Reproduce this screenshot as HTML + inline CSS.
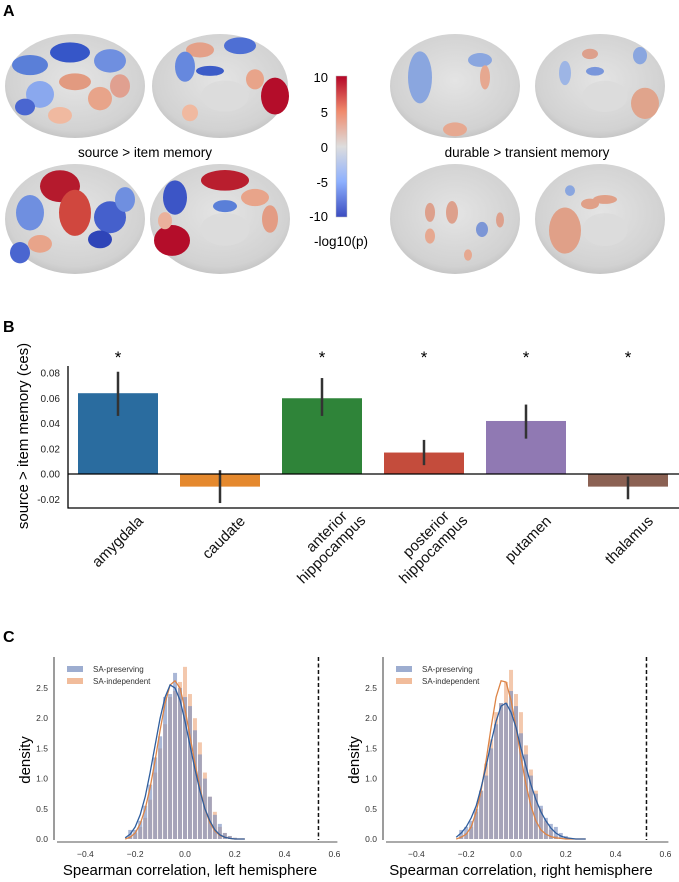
<!DOCTYPE html>
<html><head><meta charset="utf-8">
<style>
html,body{margin:0;padding:0;background:#fff;}
svg{display:block;font-family:"Liberation Sans",sans-serif;}
</style></head>
<body>
<svg id="fig" width="679" height="882" viewBox="0 0 679 882" xmlns="http://www.w3.org/2000/svg">
<defs>
<radialGradient id="brainGrad" cx="50%" cy="45%" r="60%">
<stop offset="0%" stop-color="#e4e4e4"/><stop offset="80%" stop-color="#d2d2d2"/><stop offset="100%" stop-color="#bdbdbd"/>
</radialGradient>
<linearGradient id="cbar" x1="0" y1="0" x2="0" y2="1">
<stop offset="0%" stop-color="#b40426"/><stop offset="25%" stop-color="#f08a6c"/><stop offset="50%" stop-color="#dddddd"/><stop offset="75%" stop-color="#8db0fe"/><stop offset="100%" stop-color="#3b4cc0"/>
</linearGradient>
</defs>

<!-- Panel A -->
<text x="3" y="16" font-size="16" font-weight="bold">A</text>
<g id="brains"></g>
<text x="145" y="157" font-size="13.5" text-anchor="middle">source &gt; item memory</text>
<text x="527" y="157" font-size="13.5" text-anchor="middle">durable &gt; transient memory</text>
<rect x="336" y="76" width="11" height="141" fill="url(#cbar)" stroke="#bbb" stroke-width="0.5"/>
<g font-size="13" text-anchor="end">
<text x="328" y="82">10</text><text x="328" y="117">5</text><text x="328" y="152">0</text><text x="328" y="187">-5</text><text x="328" y="221">-10</text>
</g>
<text x="341" y="246" font-size="13.5" text-anchor="middle">-log10(p)</text>

<!-- Panel B -->
<text x="3" y="332" font-size="16" font-weight="bold">B</text>
<g id="panelB"></g>

<!-- Panel C -->
<text x="3" y="642" font-size="16" font-weight="bold">C</text>
<g id="panelC"></g>
</svg>

<script>
// ---------- Panel B data ----------
const regions = ["amygdala","caudate","anterior|hippocampus","posterior|hippocampus","putamen","thalamus"];
const barValues = [0.064,-0.010,0.060,0.017,0.042,-0.010];
const errLow = [0.046,-0.023,0.046,0.007,0.028,-0.020];
const errHigh = [0.081,0.003,0.076,0.027,0.055,-0.002];
const significant = [1,0,1,1,1,1];
const bTicks = [0.08,0.06,0.04,0.02,0.00,-0.02];
const bTickLabels = ["0.08","0.06","0.04","0.02","0.00","-0.02"];
const barColors = ["#2a6c9f","#e5892e","#2f8439","#c44c3c","#9079b3","#8b6153"];

// ---------- Panel C data ----------
const binCenters = [-0.22,-0.20,-0.18,-0.16,-0.14,-0.12,-0.10,-0.08,-0.06,-0.04,-0.02,0.00,0.02,0.04,0.06,0.08,0.10,0.12,0.14,0.16,0.18,0.20,0.22,0.24];
const leftPreserveHist = [0.15,0.15,0.3,0.55,0.9,1.35,1.7,2.35,2.4,2.75,2.5,2.35,2.2,1.8,1.4,1.0,0.7,0.4,0.25,0.1,0.05,0.02,0,0];
const leftIndepHist = [0.05,0.1,0.2,0.35,0.65,1.1,1.5,1.9,2.35,2.45,2.6,2.85,2.4,2.0,1.6,1.1,0.7,0.45,0.2,0.1,0.05,0.02,0,0];
const rightPreserveHist = [0.15,0.2,0.3,0.5,0.8,1.05,1.5,1.9,2.25,2.25,2.45,2.2,1.75,1.4,1.05,0.75,0.55,0.35,0.25,0.2,0.1,0.05,0,0];
const rightIndepHist = [0.05,0.1,0.2,0.45,0.8,1.25,1.65,2.1,2.25,2.6,2.8,2.4,2.1,1.55,1.15,0.8,0.5,0.3,0.15,0.05,0.02,0,0,0];
const kdeX = [-0.24,-0.22,-0.20,-0.18,-0.16,-0.14,-0.12,-0.10,-0.08,-0.06,-0.04,-0.02,0.00,0.02,0.04,0.06,0.08,0.10,0.12,0.14,0.16,0.18,0.20,0.22,0.24,0.26,0.28];
const leftPreserveKde = [0.02,0.08,0.2,0.4,0.7,1.1,1.55,2.0,2.35,2.55,2.5,2.3,1.95,1.55,1.15,0.8,0.5,0.3,0.15,0.07,0.03,0.01,0,0,0,null,null];
const leftIndepKde = [0,0.03,0.1,0.25,0.5,0.85,1.3,1.8,2.25,2.55,2.62,2.5,2.15,1.7,1.25,0.85,0.5,0.27,0.13,0.06,0.03,0.01,0,0,0,null,null];
const rightPreserveKde = [0.03,0.1,0.2,0.35,0.55,0.85,1.2,1.6,1.95,2.2,2.25,2.1,1.85,1.5,1.2,0.9,0.65,0.45,0.3,0.18,0.1,0.05,0.02,0.01,0,0,0];
const rightIndepKde = [0,0.03,0.08,0.2,0.45,0.8,1.3,1.85,2.35,2.62,2.6,2.3,1.85,1.35,0.9,0.55,0.3,0.15,0.08,0.04,0.02,0.01,0,0,0,0,0];
const observedR = [0.536,0.524];
const cYTicks = [0,0.5,1.0,1.5,2.0,2.5];
const cXTicks = [-0.4,-0.2,0.0,0.2,0.4,0.6];
const cXTickLabels = ["\u22120.4","\u22120.2","0.0","0.2","0.4","0.6"];

const NS = "http://www.w3.org/2000/svg";
function mk(tag, attrs, parent){const e=document.createElementNS(NS,tag);for(const k in attrs)e.setAttribute(k,attrs[k]);parent.appendChild(e);return e;}

// ---------- Brains (decorative surfaces) ----------
(function(){
  const g=document.getElementById('brains');
  const brains=[
    {cx:75,cy:105,rx:70,ry:62,blobs:[[30,80,18,12,"#5a7fd8"],[70,65,20,12,"#3656c8"],[110,75,16,14,"#6f8fe0"],[40,115,14,16,"#8aa8ee"],[75,100,16,10,"#e29a80"],[100,120,12,14,"#e8a48a"],[60,140,12,10,"#f0b9a0"],[120,105,10,14,"#e0a090"],[25,130,10,10,"#4a66d0"]]},
    {cx:220,cy:108,rx:68,ry:62,blobs:[[200,65,14,9,"#e4a088"],[240,60,16,10,"#4e6fd4"],[185,85,10,18,"#6688de"],[210,90,14,6,"#3c5cc8"],[275,120,14,22,"#b40d2a"],[255,100,9,12,"#e8a48a"],[190,140,8,10,"#f0b9a0"]]},
    {cx:75,cy:232,rx:70,ry:62,blobs:[[60,195,20,18,"#b51a2d"],[75,225,16,26,"#d0473e"],[30,225,14,20,"#6f8fe0"],[110,230,16,18,"#4560cc"],[100,255,12,10,"#2f45b8"],[40,260,12,10,"#e8a48a"],[20,270,10,12,"#4a66d0"],[125,210,10,14,"#6f8fe0"]]},
    {cx:220,cy:230,rx:70,ry:64,blobs:[[225,185,24,12,"#b91e2e"],[175,205,12,20,"#3c55c6"],[172,255,18,18,"#b40d2a"],[255,205,14,10,"#e8a48a"],[225,215,12,7,"#5a7fd8"],[270,230,8,16,"#e39c84"],[165,232,7,10,"#eab19c"]]},
    {cx:455,cy:105,rx:65,ry:60,blobs:[[420,95,12,30,"#8aa6df"],[480,75,12,8,"#8aa6df"],[485,95,5,14,"#e6a890"],[455,155,12,8,"#e6a890"]]},
    {cx:600,cy:105,rx:65,ry:60,blobs:[[590,68,8,6,"#dda08c"],[595,88,9,5,"#7996db"],[640,70,7,10,"#8aa6df"],[565,90,6,14,"#9db5e5"],[645,125,14,18,"#e0a48c"]]},
    {cx:455,cy:232,rx:65,ry:58,blobs:[[452,225,6,12,"#dda08c"],[430,225,5,10,"#dda08c"],[482,243,6,8,"#7c96d6"],[500,233,4,8,"#dda08c"],[430,250,5,8,"#e6a890"],[468,270,4,6,"#e6a890"]]},
    {cx:600,cy:232,rx:65,ry:62,blobs:[[565,245,16,26,"#e0a088"],[590,215,9,6,"#e0a088"],[605,210,12,5,"#e0a088"],[570,200,5,6,"#8aa6df"]]}
  ];
  brains.forEach((b,i)=>{
    const top = (i===0||i===1||i===4||i===5);
    const newCy = top ? 86 : 219;
    const f = top ? 52/b.ry : 55/b.ry;
    const s=mk('g',{transform:`translate(0,${newCy}) scale(1,${f.toFixed(3)}) translate(0,${-b.cy})`},g);
    
    
    mk('ellipse',{cx:b.cx,cy:b.cy,rx:b.rx,ry:b.ry,fill:"url(#brainGrad)"},s);
    b.blobs.forEach(q=>mk('ellipse',{cx:q[0],cy:q[1],rx:q[2],ry:q[3],fill:q[4]},s));
    mk('ellipse',{cx:b.cx+(i%2?5:8),cy:b.cy+12,rx:b.rx*0.35,ry:b.ry*0.3,fill:"#dcdcdc",opacity:(i%2?0.9:0)},s);
  });
})();

// ---------- Panel B ----------
(function(){
  const g=document.getElementById('panelB');
  const y0=474, k=1262.5, x0=118, step=102, bw=80;
  const yS=v=>y0-v*k, xS=i=>x0+i*step;
  bTicks.forEach((t,i)=>{
    const tx=mk('text',{x:60,y:yS(t)+3.5,'font-size':10,'text-anchor':'end',fill:'#222'},g);
    tx.textContent=bTickLabels[i];
    
    
  });
  regions.forEach((r,i)=>{
    const v=barValues[i];
    const rc=mk('rect',{x:xS(i)-bw/2,y:Math.min(yS(v),y0),width:bw,height:Math.abs(yS(v)-y0),fill:barColors[i]},g);
    
    
    const el=mk('line',{x1:xS(i),x2:xS(i),y1:yS(errLow[i]),y2:yS(errHigh[i]),stroke:'#333','stroke-width':2.5},g);
    
    
    if(significant[i]){
      const st=mk('text',{x:xS(i),y:363,'font-size':17,'text-anchor':'middle'},g);
      st.textContent='*';
      
      
    }
    const parts=r.split('|');
    const lg=mk('text',{transform:`translate(${xS(i)+26},${parts.length>1?517:522}) rotate(-45)`,'font-size':15,'text-anchor':'end',fill:'#111'},g);
    
    
    parts.forEach((p,j)=>{const ts=mk('tspan',{x:j?10:0,y:j*16},lg);ts.textContent=p;});
  });
  mk('line',{x1:68,x2:679,y1:y0,y2:y0,stroke:'#000','stroke-width':1.3},g);
  const ya=mk('line',{x1:68,x2:68,y1:366,y2:508.5,stroke:'#000','stroke-width':1.3},g);
  
  
  const xa=mk('line',{x1:67.5,x2:679,y1:508,y2:508,stroke:'#000','stroke-width':1.3},g);
  
  
  const yt=mk('text',{transform:'translate(28,436) rotate(-90)','font-size':15,'text-anchor':'middle'},g);
  yt.textContent='source > item memory (ces)';
  
  
})();

// ---------- Panel C ----------
function drawHist(axisX, zeroX, pres, indep, kP, kI, obs, title, side){
  const g=document.getElementById('panelC');
  const sub=mk('g',{},g);
  
  
  const y0=839, ky=60.4, kx=249;
  const xS=v=>zeroX+v*kx, yS=v=>y0-v*ky;
  const bw=0.02*kx;
  binCenters.forEach((c,i)=>{
    const b1=mk('rect',{x:xS(c)-bw/2+0.5,y:yS(indep[i]),width:bw-1,height:indep[i]*ky,fill:'#eeb08a',opacity:0.7},sub);
    
    
  });
  binCenters.forEach((c,i)=>{
    const b2=mk('rect',{x:xS(c)-bw/2+0.5,y:yS(pres[i]),width:bw-1,height:pres[i]*ky,fill:'#7c91c0',opacity:0.65},sub);
    
    
  });
  function curve(arr,col,name){
    let d='';
    kdeX.forEach((x,i)=>{ if(arr[i]===null) return; d+=(d?'L':'M')+xS(x).toFixed(1)+','+yS(arr[i]).toFixed(1);});
    const p=mk('path',{d:d,fill:'none',stroke:col,'stroke-width':1.3},sub);
    
    
  }
  curve(kI,'#dd8446','kde-sa-independent');
  curve(kP,'#2f5e9e','kde-sa-preserving');
  const dl=mk('line',{x1:xS(obs),x2:xS(obs),y1:657,y2:840,stroke:'#111','stroke-width':1.5,'stroke-dasharray':'4,2.5'},sub);
  
  
  const ya=mk('line',{x1:axisX,x2:axisX,y1:657,y2:840,stroke:'#666','stroke-width':1.3},sub);
  
  
  const xa=mk('line',{x1:axisX+3,x2:zeroX+0.6*kx+3,y1:842,y2:842,stroke:'#777','stroke-width':1.3},sub);
  
  
  cYTicks.forEach(t=>{
    const tx=mk('text',{x:axisX-6,y:yS(t)+3,'font-size':8.5,'text-anchor':'end',fill:'#333'},sub);
    tx.textContent=t.toFixed(1);
    
    
  });
  cXTicks.forEach((t,i)=>{
    const tx=mk('text',{x:xS(t),y:857,'font-size':8.5,'text-anchor':'middle',fill:'#333'},sub);
    tx.textContent=cXTickLabels[i];
    
    
  });
  const xt=mk('text',{x:zeroX+5,y:875,'font-size':15,'text-anchor':'middle'},sub);
  xt.textContent=title;
  
  
  const yt=mk('text',{transform:`translate(${axisX-24},760) rotate(-90)`,'font-size':15,'text-anchor':'middle'},sub);
  yt.textContent='density';
  
  
  const lg=mk('g',{},sub);
  
  
  mk('rect',{x:axisX+13,y:666,width:16,height:6,fill:'#7c91c0',opacity:0.75},lg);
  mk('rect',{x:axisX+13,y:678,width:16,height:6,fill:'#eeb08a',opacity:0.85},lg);
  const l1=mk('text',{x:axisX+39,y:672,'font-size':8,fill:'#333'},lg); l1.textContent='SA-preserving';
  const l2=mk('text',{x:axisX+39,y:684,'font-size':8,fill:'#333'},lg); l2.textContent='SA-independent';
}
drawHist(54,185,leftPreserveHist,leftIndepHist,leftPreserveKde,leftIndepKde,observedR[0],'Spearman correlation, left hemisphere','left');
drawHist(383,516,rightPreserveHist,rightIndepHist,rightPreserveKde,rightIndepKde,observedR[1],'Spearman correlation, right hemisphere','right');
</script>
</body></html>
